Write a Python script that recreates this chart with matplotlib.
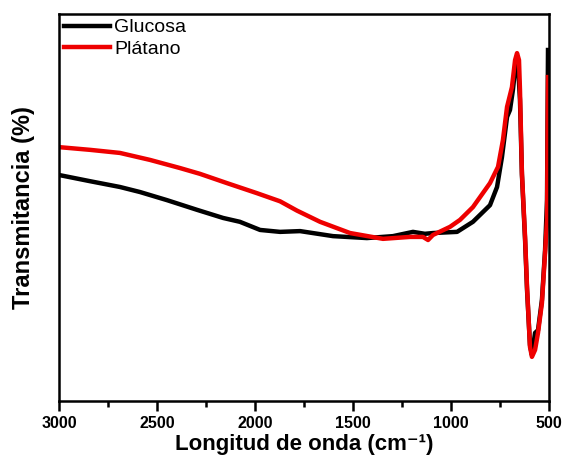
import numpy as np
import matplotlib.pyplot as plt
from matplotlib.ticker import MultipleLocator

plt.rcParams['font.family'] = ['Liberation Sans', 'DejaVu Sans']

# FTIR spectra (wavenumber in cm^-1, transmittance in arbitrary %)
w_platano = [3000, 2842, 2689, 2536, 2383, 2281, 2143, 1990, 1872, 1786, 1668, 1515,
             1347, 1209, 1143, 1117, 1092, 1005, 954, 888, 801, 760, 735, 714, 689,
             673, 663, 653, 648, 638, 622, 612, 597, 587, 571, 556, 536, 520, 510, 505]
t_platano = [65.6, 64.9, 64.1, 62.3, 60.2, 58.7, 56.3, 53.7, 51.6, 49.2, 46.3, 43.4,
             41.9, 42.4, 42.4, 41.6, 42.9, 45.0, 46.8, 50.1, 56.3, 60.5, 67.4, 76.0, 81.1,
             88.1, 89.9, 88.1, 80.4, 58.9, 42.4, 29.5, 14.0, 11.4, 13.2, 17.6, 25.3, 38.2, 46.8, 83.7]

w_glucosa = [3000, 2842, 2689, 2587, 2449, 2296, 2163, 2077, 1974, 1872, 1770, 1602,
             1429, 1296, 1194, 1133, 1092, 969, 888, 801, 765, 740, 714, 699, 684,
             668, 658, 648, 638, 622, 612, 597, 587, 571, 556, 536, 520, 510, 505]
t_glucosa = [58.4, 56.8, 55.3, 54.0, 51.9, 49.4, 47.3, 46.3, 44.2, 43.7, 43.9, 42.6,
             42.1, 42.6, 43.7, 43.2, 43.4, 43.7, 46.3, 50.6, 55.3, 63.0, 73.4, 75.2, 80.4,
             88.1, 86.8, 77.8, 58.4, 41.6, 28.7, 14.5, 11.9, 17.6, 18.3, 26.1, 39.0, 51.9, 90.7]

fig = plt.figure(figsize=(5.63, 4.58), dpi=100)
ax = fig.add_axes([0.1048, 0.1245, 0.8703, 0.8449])

ax.plot(w_glucosa, t_glucosa, color='black', lw=3.2, label='Glucosa')
ax.plot(w_platano, t_platano, color='#ee0000', lw=3.2, label='Plátano')

ax.set_xlim(3000, 500)
ax.set_ylim(0, 100)
ax.xaxis.set_major_locator(MultipleLocator(500))
ax.xaxis.set_minor_locator(MultipleLocator(250))
ax.set_yticks([])
ax.tick_params(axis='x', which='major', length=7, width=1.8, direction='out',
               labelsize=11.5, pad=4)
ax.tick_params(axis='x', which='minor', length=4, width=1.8, direction='out')
for lbl in ax.get_xticklabels():
    lbl.set_fontweight('bold')
for s in ax.spines.values():
    s.set_linewidth(1.8)

ax.set_xlabel('Longitud de onda (cm⁻¹)', fontsize=16, fontweight='bold', labelpad=2)
ax.set_ylabel('Transmitancia (%)', fontsize=17, fontweight='bold', labelpad=17)

ax.legend(loc='upper left', frameon=False, fontsize=14, handlelength=2.35,
          handletextpad=0.25, borderaxespad=0.0, borderpad=0.25, labelspacing=0.2)

fig.savefig('out.png', dpi=100)
